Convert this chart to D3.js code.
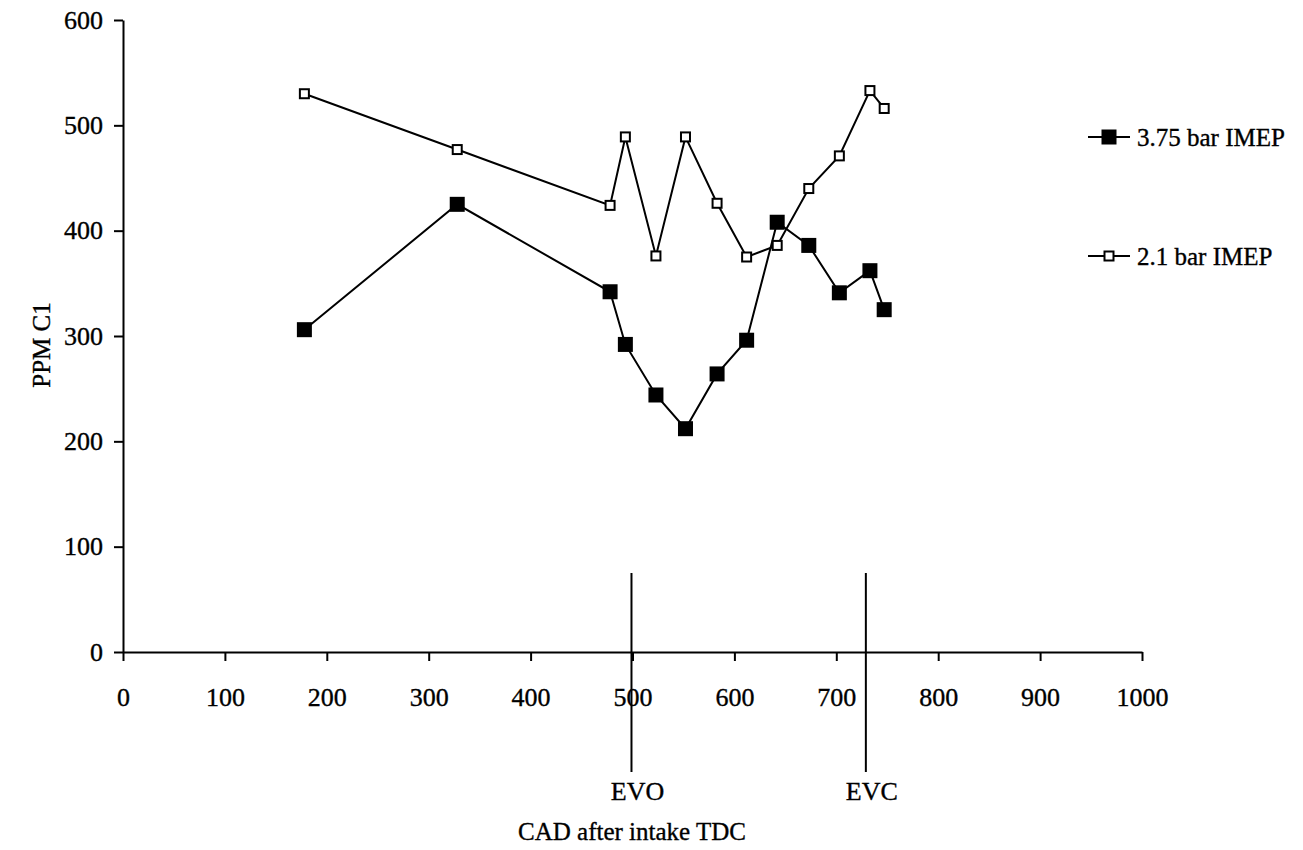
<!DOCTYPE html>
<html>
<head>
<meta charset="utf-8">
<script src="https://cdn.jsdelivr.net/npm/d3@7"></script>
<style>
	body { margin: 0; background: #fff; }
	svg text { font-family: "Liberation Serif", "Times New Roman", serif; fill: #000; stroke: #000; stroke-width: 0.35px; }
	.axis path, .axis line { stroke: #000; stroke-width: 2px; }
	.axis text { font-size: 26px; }
</style>
</head>
<body>
<div id="chart"></div>
<script>
// Crank angle (CAD after intake TDC) for each sample.
var cad = [ 178, 328, 478, 493, 523, 552, 583, 612, 642, 673, 703, 733, 747 ];

// PPM C1 readings per load.
var imep375 = [ 306, 425, 342, 292, 244, 212, 264, 296, 408, 386, 341, 362, 325 ];
var imep21 = [ 530, 477, 424, 489, 376, 489, 426, 375, 386, 440, 471, 533, 516 ];

var seriesNames = [ '3.75 bar IMEP', '2.1 bar IMEP' ];

// Valve event markers.
var events = [ { name: 'EVO', cad: 499 }, { name: 'EVC', cad: 729 } ];

var xTicks = [ 0, 100, 200, 300, 400, 500, 600, 700, 800, 900, 1000 ];
var yTicks = [ 0, 100, 200, 300, 400, 500, 600 ];

( function () {

	var width = 1303, height = 850;

	var svg = d3.select( '#chart' ).append( 'svg' )
		.attr( 'width', width )
		.attr( 'height', height );

	svg.append( 'rect' ).attr( 'width', width ).attr( 'height', height ).attr( 'fill', '#fff' );

	var x = d3.scaleLinear().domain( [ 0, 1000 ] ).range( [ 123, 1142 ] );
	var y = d3.scaleLinear().domain( [ 0, 600 ] ).range( [ 652, 20 ] );

	// Valve event lines go behind everything else.
	var ev = svg.selectAll( 'g.event' )
		.data( events )
		.enter()
		.append( 'g' )
		.attr( 'class', 'event' );

	ev.append( 'line' )
		.attr( 'x1', function ( d ) { return x( d.cad ); } )
		.attr( 'x2', function ( d ) { return x( d.cad ); } )
		.attr( 'y1', 573 )
		.attr( 'y2', 772 )
		.attr( 'stroke', '#000' )
		.attr( 'stroke-width', 2 );

	ev.append( 'text' )
		.attr( 'x', function ( d ) { return x( d.cad ) + 6; } )
		.attr( 'y', 800 )
		.attr( 'text-anchor', 'middle' )
		.attr( 'font-size', '26px' )
		.text( function ( d ) { return d.name; } );

	// Axes.
	var xAxis = d3.axisBottom( x ).tickValues( xTicks ).tickFormat( d3.format( 'd' ) )
		.tickSize( 9 ).tickSizeOuter( 0 ).tickPadding( 36 );
	svg.append( 'g' )
		.attr( 'class', 'x axis' )
		.attr( 'transform', 'translate( 0, ' + y( 0 ) + ' )' )
		.call( xAxis );

	var yAxis = d3.axisLeft( y ).tickValues( yTicks ).tickFormat( d3.format( 'd' ) )
		.tickSize( 9 ).tickSizeOuter( 0 ).tickPadding( 11 );
	svg.append( 'g' )
		.attr( 'class', 'y axis' )
		.attr( 'transform', 'translate( ' + x( 0 ) + ', 0 )' )
		.call( yAxis );

	svg.selectAll( '.x.axis .tick text' ).attr( 'dy', '0.35em' );

	// Axis titles.
	svg.append( 'text' )
		.attr( 'x', 632 )
		.attr( 'y', 840 )
		.attr( 'text-anchor', 'middle' )
		.attr( 'font-size', '25px' )
		.text( 'CAD after intake TDC' );

	svg.append( 'text' )
		.attr( 'transform', 'translate( 50, 345 ) rotate( -90 )' )
		.attr( 'text-anchor', 'middle' )
		.attr( 'font-size', '25px' )
		.text( 'PPM C1' );

	var line = d3.line()
		.x( function ( d ) { return x( d[0] ); } )
		.y( function ( d ) { return y( d[1] ); } );

	var data21 = d3.zip( cad, imep21 );
	var data375 = d3.zip( cad, imep375 );

	// 2.1 bar: open squares.
	svg.append( 'path' )
		.datum( data21 )
		.attr( 'd', line )
		.attr( 'fill', 'none' )
		.attr( 'stroke', '#000' )
		.attr( 'stroke-width', 2 );

	// 3.75 bar: filled squares.
	svg.append( 'path' )
		.datum( data375 )
		.attr( 'd', line )
		.attr( 'fill', 'none' )
		.attr( 'stroke', '#000' )
		.attr( 'stroke-width', 2 );

	svg.selectAll( 'rect.open' )
		.data( data21 )
		.enter()
		.append( 'rect' )
		.attr( 'class', 'open' )
		.attr( 'x', function ( d ) { return x( d[0] ) - 4.5; } )
		.attr( 'y', function ( d ) { return y( d[1] ) - 4.5; } )
		.attr( 'width', 9 )
		.attr( 'height', 9 )
		.attr( 'fill', '#fff' )
		.attr( 'stroke', '#000' )
		.attr( 'stroke-width', 2 );

	svg.selectAll( 'rect.filled' )
		.data( data375 )
		.enter()
		.append( 'rect' )
		.attr( 'class', 'filled' )
		.attr( 'x', function ( d ) { return x( d[0] ) - 7.5; } )
		.attr( 'y', function ( d ) { return y( d[1] ) - 7.5; } )
		.attr( 'width', 15 )
		.attr( 'height', 15 )
		.attr( 'fill', '#000' );

	// Legend.
	var legendY = [ 137, 256 ];
	var legend = svg.selectAll( 'g.legend' )
		.data( seriesNames )
		.enter()
		.append( 'g' )
		.attr( 'class', 'legend' )
		.attr( 'transform', function ( d, i ) { return 'translate( 1088, ' + legendY[i] + ' )'; } );

	legend.append( 'line' )
		.attr( 'x1', 0 )
		.attr( 'x2', 42 )
		.attr( 'stroke', '#000' )
		.attr( 'stroke-width', 2 );

	legend.append( 'rect' )
		.attr( 'x', function ( d, i ) { return i === 0 ? 21 - 7.5 : 21 - 4.5; } )
		.attr( 'y', function ( d, i ) { return i === 0 ? -7.5 : -4.5; } )
		.attr( 'width', function ( d, i ) { return i === 0 ? 15 : 9; } )
		.attr( 'height', function ( d, i ) { return i === 0 ? 15 : 9; } )
		.attr( 'fill', function ( d, i ) { return i === 0 ? '#000' : '#fff'; } )
		.attr( 'stroke', '#000' )
		.attr( 'stroke-width', function ( d, i ) { return i === 0 ? 0 : 2; } );

	legend.append( 'text' )
		.attr( 'x', 49 )
		.attr( 'dy', '0.35em' )
		.attr( 'font-size', '25px' )
		.text( function ( d ) { return d; } );

} )();
</script>
</body>
</html>
